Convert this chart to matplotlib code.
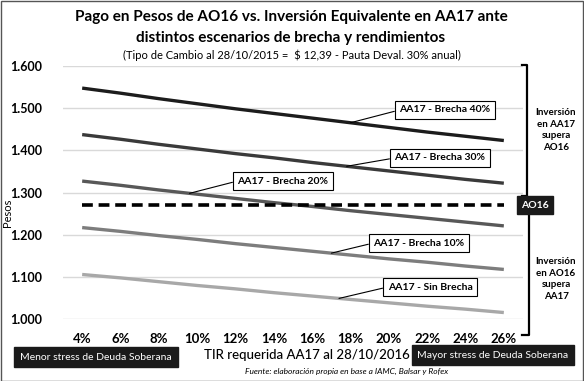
import numpy as np
import matplotlib
matplotlib.use("Agg")
import matplotlib.pyplot as plt
from matplotlib.patches import Rectangle

# ---- data ----
tir_labels = ["4%", "6%", "8%", "10%", "12%", "14%", "16%", "18%", "20%", "22%", "24%", "26%"]
brecha_40 = [1.547, 1.535, 1.522, 1.510, 1.498, 1.487, 1.476, 1.465, 1.454, 1.443, 1.433, 1.423]
brecha_30 = [1.437, 1.426, 1.414, 1.403, 1.392, 1.382, 1.371, 1.361, 1.351, 1.341, 1.331, 1.322]
brecha_20 = [1.327, 1.317, 1.306, 1.296, 1.286, 1.276, 1.267, 1.257, 1.248, 1.239, 1.230, 1.221]
brecha_10 = [1.217, 1.208, 1.198, 1.189, 1.179, 1.170, 1.161, 1.152, 1.143, 1.135, 1.126, 1.118]
sin_brecha = [1.106, 1.098, 1.089, 1.080, 1.072, 1.063, 1.055, 1.047, 1.039, 1.031, 1.024, 1.016]
ao16 = [1.270] * 12
y_ticks = [1.0, 1.1, 1.2, 1.3, 1.4, 1.5, 1.6]
y_tick_labels = ["1.000", "1.100", "1.200", "1.300", "1.400", "1.500", "1.600"]

FONT = ["Lato", "DejaVu Sans"]
plt.rcParams["font.family"] = FONT

W, H = 584, 381
fig = plt.figure(figsize=(W / 100, H / 100), dpi=100)

def fx(x):
    return x / W

def fy(y):
    return 1 - y / H

L, R, T, B = 63, 523, 65.7, 319.3
ax = fig.add_axes([fx(L), fy(B), fx(R) - fx(L), fy(T) - fy(B)])
idx = np.arange(len(tir_labels))

series = [
    ("AA17 - Brecha 40%", brecha_40, "#1c1c1c"),
    ("AA17 - Brecha 30%", brecha_30, "#3a3a3a"),
    ("AA17 - Brecha 20%", brecha_20, "#585858"),
    ("AA17 - Brecha 10%", brecha_10, "#7d7d7d"),
    ("AA17 - Sin Brecha", sin_brecha, "#a8a8a8"),
]
for name, vals, c in series:
    ax.plot(idx, vals, color=c, lw=2.4, solid_capstyle="butt", zorder=3)
ax.plot(idx, ao16, color="black", lw=2.6, ls=(0, (3, 1.6)), zorder=4)

ax.set_xlim(-0.5, len(idx) - 0.5)
ax.set_ylim(1.0, 1.6)
ax.set_yticks(y_ticks)
ax.set_yticklabels(y_tick_labels, fontsize=9, fontweight="bold")
ax.set_xticks(idx)
ax.set_xticklabels(tir_labels, fontsize=9.5, fontweight="bold")
ax.tick_params(length=0, pad=10)
ax.tick_params(axis="y", pad=15)
ax.grid(axis="y", color="#d9d9d9", lw=1)
ax.set_axisbelow(True)
for s in ax.spines.values():
    s.set_visible(False)

# annotations: (series index, x index, box center px)
ann = [
    (0, 7.0, (445, 110)),
    (1, 6.9, (440, 158)),
    (2, 2.8, (283, 181)),
    (3, 6.5, (419, 243)),
    (4, 6.7, (430, 287)),
]
for si, xi, (cx, cy) in ann:
    name, vals, c = series[si]
    yv = np.interp(xi, idx, vals)
    ax.annotate(name, xy=(xi, yv), xycoords="data",
                xytext=(cx, H - cy), textcoords="figure pixels",
                ha="center", va="center", fontsize=7.5, fontweight="bold",
                bbox=dict(boxstyle="square,pad=0.45", fc="white", ec="black", lw=0.8),
                arrowprops=dict(arrowstyle="-", color="black", lw=0.8,
                                shrinkA=0, shrinkB=0, relpos=(0, 0.5)),
                zorder=6)

# titles
fig.text(fx(291), fy(17), "Pago en Pesos de AO16 vs. Inversión Equivalente en AA17 ante",
         ha="center", va="center", fontsize=11, fontweight="bold")
fig.text(fx(291), fy(38), "distintos escenarios de brecha y rendimientos",
         ha="center", va="center", fontsize=11, fontweight="bold")
fig.text(fx(292), fy(55), "(Tipo de Cambio al 28/10/2015 =  $ 12,39 - Pauta Deval. 30% anual)",
         ha="center", va="center", fontsize=8)
fig.text(fx(8), fy(213), "Pesos", rotation=90, ha="center", va="center", fontsize=8)

# right side brackets
def line(xs, ys, lw=1.6):
    fig.add_artist(plt.Line2D([fx(x) for x in xs], [fy(y) for y in ys],
                              color="black", lw=lw, transform=fig.transFigure))

line([522, 527, 527, 522], [65, 65, 196, 196])
line([529, 529, 522], [213, 335, 335])
fig.text(fx(535), fy(205), "AO16", ha="center", va="center", fontsize=7.5,
         fontweight="bold", color="white",
         bbox=dict(boxstyle="square,pad=0.4", fc="#1a1a1a", ec="#1a1a1a"))
fig.text(fx(556), fy(130), "Inversión\nen AA17\nsupera\nAO16", ha="center", va="center",
         fontsize=7, fontweight="bold", linespacing=1.35)
fig.text(fx(556), fy(279), "Inversión\nen AO16\nsupera\nAA17", ha="center", va="center",
         fontsize=7, fontweight="bold", linespacing=1.35)

# bottom labels
fig.text(fx(96), fy(357), "Menor stress de Deuda Soberana", ha="center", va="center",
         fontsize=7.5, color="white",
         bbox=dict(boxstyle="square,pad=0.55", fc="#1a1a1a", ec="#1a1a1a"))
fig.text(fx(493), fy(355), "Mayor stress de Deuda Soberana", ha="center", va="center",
         fontsize=7.5, color="white",
         bbox=dict(boxstyle="square,pad=0.55", fc="#1a1a1a", ec="#1a1a1a"))
fig.text(fx(307), fy(355), "TIR requerida AA17 al 28/10/2016", ha="center", va="center",
         fontsize=9.5, fontweight="medium")
fig.text(fx(347), fy(371), "Fuente: elaboración propia en base a IAMC, Balsar y Rofex",
         ha="center", va="center", fontsize=6, style="italic")

# outer frame
fig.add_artist(Rectangle((0.5 / W, 0.5 / H), 1 - 1.5 / W, 1 - 1.5 / H, transform=fig.transFigure,
                         fill=False, ec="#555555", lw=1))

fig.savefig("out.png", dpi=100)
